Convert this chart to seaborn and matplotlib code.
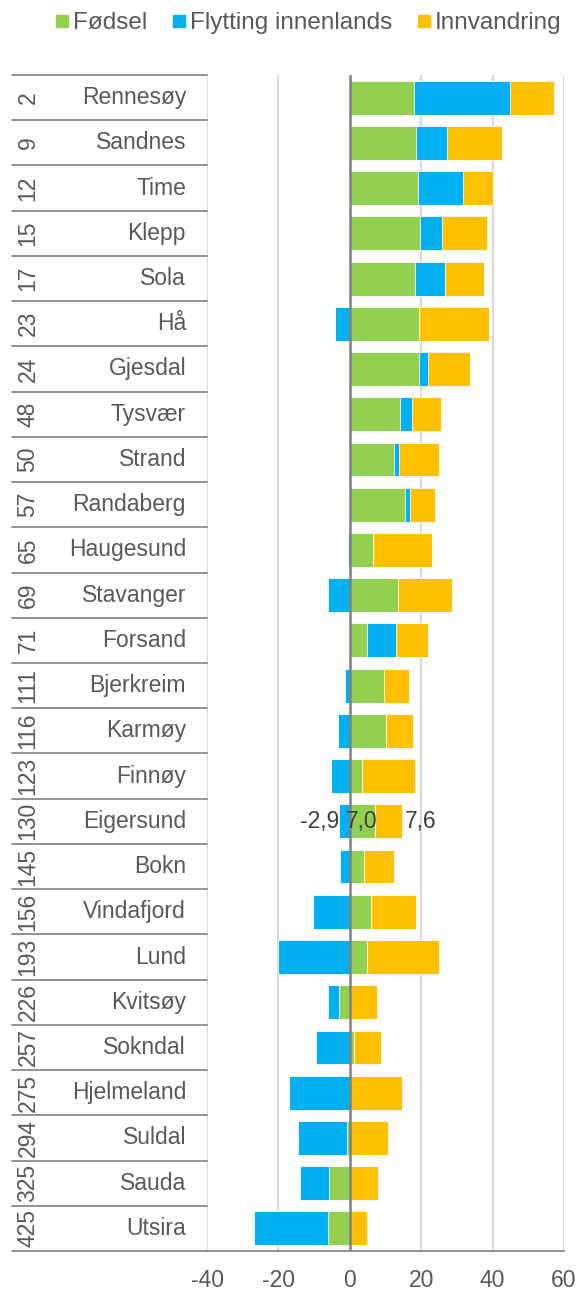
import numpy as np
import pandas as pd
import matplotlib
matplotlib.use("Agg")
import matplotlib.pyplot as plt
import matplotlib.transforms as mtransforms
from matplotlib.lines import Line2D
import seaborn as sns

names = ["Rennesøy", "Sandnes", "Time", "Klepp", "Sola", "Hå", "Gjesdal", "Tysvær",
         "Strand", "Randaberg", "Haugesund", "Stavanger", "Forsand", "Bjerkreim",
         "Karmøy", "Finnøy", "Eigersund", "Bokn", "Vindafjord", "Lund", "Kvitsøy",
         "Sokndal", "Hjelmeland", "Suldal", "Sauda", "Utsira"]
ranks = [2, 9, 12, 15, 17, 23, 24, 48, 50, 57, 65, 69, 71, 111, 116, 123, 130,
         145, 156, 193, 226, 257, 275, 294, 325, 425]
fodsel = [18.0, 18.6, 19.1, 19.8, 18.4, 19.3, 19.5, 14.2, 12.3, 15.6, 6.4, 13.4,
          4.9, 9.5, 10.0, 3.5, 7.0, 3.9, 5.9, 4.8, -3.1, 1.2, 0.0, -0.8, -5.7, -6.1]
flytting = [27.0, 8.5, 12.5, 5.9, 8.4, -4.1, 2.5, 3.2, 1.4, 1.2, -0.6, -6.2,
            8.1, -1.4, -3.4, -5.4, -2.9, -2.8, -10.3, -20.0, -2.9, -9.4, -16.9,
            -13.7, -8.2, -20.8]
innvandring = [12.1, 15.5, 8.4, 12.6, 10.7, 19.8, 11.6, 8.2, 11.2, 7.0, 16.5,
               15.1, 8.8, 7.0, 7.6, 14.8, 7.6, 8.5, 12.7, 20.3, 7.5, 7.4, 14.5,
               10.6, 7.8, 4.8]
series_names = ["Fødsel", "Flytting innenlands", "Innvandring"]
colors = ["#92D050", "#00B0F0", "#FFC000"]
label_row = "Eigersund"
label_texts = ["-2,9", "7,0", "7,6"]
label_x = [-8.4, 3.2, 19.8]
xticks = [-40, -20, 0, 20, 40, 60]

sns.set_theme(style="white")
plt.rcParams["font.family"] = ["Liberation Sans", "DejaVu Sans"]
TXT = "#595959"
FS = 16.5

W, H = 581, 1291
fig = plt.figure(figsize=(W / 100, H / 100), dpi=100)
L, R, T, B = 207, 564, 75, 1251
ax = fig.add_axes([L / W, 1 - B / H, (R - L) / W, (B - T) / H])

vals = np.array([fodsel, flytting, innvandring])
pos_cum = np.cumsum(np.clip(vals, 0, None), axis=0)
neg_cum = np.cumsum(np.clip(vals, None, 0), axis=0)

# draw layers in reverse so that earlier series sit on top (Excel-like stacking)
for k in [2, 1, 0]:
    layer = np.where(vals[k] >= 0, pos_cum[k], neg_cum[k])
    df = pd.DataFrame({"name": names, "value": layer})
    sns.barplot(data=df, x="value", y="name", orient="h", color=colors[k],
                saturation=1, width=0.75, edgecolor="white", linewidth=0.6,
                ax=ax, zorder=3)

n = len(names)
ax.set_ylim(n - 0.5, -0.5)
ax.set_xlim(-40, 60)
ax.set_xticks(xticks)
ax.set_xticklabels([str(t) for t in xticks], fontsize=FS, color=TXT)
ax.tick_params(axis="x", length=0, pad=13)
ax.set_yticks([])
ax.set_xlabel("")
ax.set_ylabel("")

for t in xticks:
    if t == 0:
        continue
    ax.axvline(t, color="#D9D9D9", lw=1.5, zorder=1)
ax.axvline(0, color="#808080", lw=1.8, zorder=5)

for s in ["top", "right", "left"]:
    ax.spines[s].set_visible(False)
ax.spines["bottom"].set_color("#808080")
ax.spines["bottom"].set_linewidth(1.2)

trans = mtransforms.blended_transform_factory(ax.transAxes, ax.transData)
x_left = (12 - L) / (R - L)
x_rank = (28 - L) / (R - L)
x_name = (186 - L) / (R - L)
for i in range(n + 1):
    y = i - 0.5
    ax.plot([x_left, 0], [y, y], transform=trans, color="#808080", lw=1.2,
            clip_on=False, zorder=2)
for i, (nm, rk) in enumerate(zip(names, ranks)):
    ax.text(x_name, i, nm, transform=trans, ha="right", va="center",
            fontsize=FS, color=TXT)
    ax.text(x_rank, i, str(rk), transform=trans, ha="center", va="center",
            rotation=90, fontsize=FS, color=TXT)

yi = names.index(label_row)
for txt, xv in zip(label_texts, label_x):
    ax.text(xv, yi, txt, ha="center", va="center", fontsize=FS,
            color="#404040", zorder=6)

handles = [Line2D([0], [0], marker="s", linestyle="", markersize=8.5,
                  markerfacecolor=c, markeredgecolor=c) for c in colors]
fig.legend(handles, series_names, loc="center", bbox_to_anchor=(308 / W, 1 - 23 / H),
           ncol=3, frameon=False, fontsize=17.5, labelcolor=TXT,
           handletextpad=0.15, columnspacing=1.0, handlelength=0.6)

fig.savefig("out.png", dpi=100)
